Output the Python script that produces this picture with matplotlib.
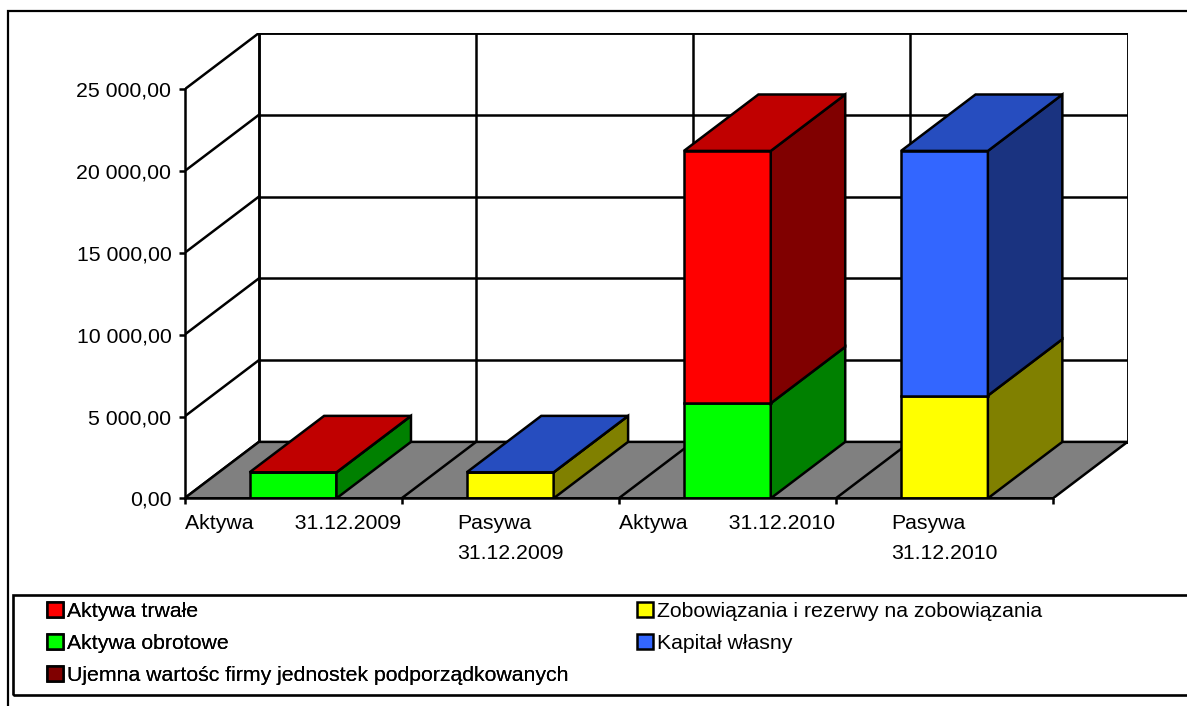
import numpy as np
import matplotlib
matplotlib.use("Agg")
import matplotlib.pyplot as plt
from matplotlib.patches import Polygon, Rectangle, Patch

plt.rcParams['font.family'] = ['Liberation Sans', 'DejaVu Sans']

# ---------------- data ----------------
x_labels = ["Aktywa       31.12.2009", "Pasywa\n31.12.2009",
            "Aktywa       31.12.2010", "Pasywa\n31.12.2010"]
series_names = ["Aktywa trwałe", "Aktywa obrotowe",
                "Ujemna wartośc firmy jednostek podporządkowanych",
                "Zobowiązania i rezerwy na zobowiązania", "Kapitał własny"]
nan = np.nan
aktywa_trwale = [0.0, nan, 15430.0, nan]
aktywa_obrotowe = [1590.0, nan, 5810.0, nan]
ujemna_wartosc = [nan, nan, nan, nan]
zobowiazania = [nan, 1590.0, nan, 6280.0]
kapital_wlasny = [nan, 0.0, nan, 14960.0]
y_ticks = [0, 5000, 10000, 15000, 20000, 25000]

# stacking order (bottom -> top) by series index
stack_order = [1, 3, 0, 4, 2]
values = [aktywa_trwale, aktywa_obrotowe, ujemna_wartosc, zobowiazania, kapital_wlasny]

# colours: front, side, top
front_c = ["#FF0000", "#00FF00", "#800000", "#FFFF00", "#3366FF"]
side_c = ["#800000", "#008000", "#400000", "#808000", "#1A3380"]
top_c = ["#C00000", "#00C000", "#600000", "#C0C000", "#264DBF"]

# ---------------- layout ----------------
W, H = 1187, 706
fig = plt.figure(figsize=(W / 100, H / 100), dpi=100)
LW = 1.8
FS = 15.3

x0p, y0p, x1p, y1p = 184.5, 498.3, 1127.5, 33.0
ax = fig.add_axes([x0p / W, 1 - y0p / H, (x1p - x0p) / W, (y0p - y1p) / H])
n = len(x_labels)
DX = 0.343
DY = 3450.0
ymax = y_ticks[-1]
ax.set_xlim(0, n + DX)
ax.set_ylim(0, ymax + DY)
ax.patch.set_alpha(0)

line_kw = dict(color="black", lw=LW, solid_capstyle="projecting", zorder=2)

# back wall and its grid
ax.add_patch(Rectangle((DX, DY), n, ymax, facecolor="white", edgecolor="black", lw=LW, zorder=1))
for v in y_ticks:
    ax.plot([DX, n + DX], [v + DY, v + DY], **line_kw)
    ax.plot([0, DX], [v, v + DY], **line_kw)
for i in range(n + 1):
    ax.plot([i + DX, i + DX], [DY, ymax + DY], **line_kw)

# floor
ax.add_patch(Polygon([(0, 0), (n, 0), (n + DX, DY), (DX, DY)], closed=True,
                     facecolor="#808080", edgecolor="black", lw=LW, zorder=3,
                     joinstyle="miter"))
for i in range(1, n):
    ax.plot([i, i + DX], [0, DY], color="black", lw=LW, zorder=3.5)

# bars
bw = 0.4
for i in range(n):
    xa = i + (1 - bw) / 2
    xb = xa + bw
    base = 0.0
    last = None
    for s in stack_order:
        v = values[s][i]
        if np.isnan(v):
            continue
        top = base + v
        pk = dict(edgecolor="black", lw=LW, joinstyle="miter", zorder=5)
        ax.add_patch(Rectangle((xa, base), bw, v, facecolor=front_c[s], **pk))
        ax.add_patch(Polygon([(xb, base), (xb + DX, base + DY), (xb + DX, top + DY), (xb, top)],
                             closed=True, facecolor=side_c[s], **pk))
        base = top
        last = s
    if last is not None:
        ax.add_patch(Polygon([(xa, base), (xb, base), (xb + DX, base + DY), (xa + DX, base + DY)],
                             closed=True, facecolor=top_c[last], edgecolor="black", lw=LW,
                             joinstyle="miter", zorder=6))

# axes / ticks
for side in ["top", "right"]:
    ax.spines[side].set_visible(False)
ax.spines["left"].set_bounds(0, ymax)
ax.spines["bottom"].set_bounds(0, n)
for side in ["left", "bottom"]:
    ax.spines[side].set_linewidth(LW)
    ax.spines[side].set_zorder(7)

def fmt(v):
    return f"{v:,.2f}".replace(",", " ").replace(".", ",")

ax.set_yticks(y_ticks)
ax.set_yticklabels([fmt(v) for v in y_ticks])
ax.tick_params(axis="y", direction="out", length=4.5, width=LW, pad=5, labelsize=FS)
ax.set_xticks(range(n + 1))
ax.set_xticklabels([""] * (n + 1))
ax.tick_params(axis="x", which="major", direction="out", length=4.5, width=LW)
ax.set_xticks(np.arange(n) + 0.5, minor=True)
ax.set_xticklabels(x_labels, minor=True)
ax.tick_params(axis="x", which="minor", length=0, pad=11, labelsize=FS)
for lbl in ax.get_xticklabels(minor=True):
    lbl.set_multialignment("left")
    lbl.set_linespacing(1.75)

# outer frame
fig.add_artist(Rectangle((8 / W, -0.2), 1.5, 1 - 11 / H + 0.2, transform=fig.transFigure,
                         fill=False, edgecolor="black", lw=1.6, clip_on=False))
# legend box
fig.add_artist(Rectangle((13 / W, 1 - 695 / H), 1.5, 100 / H, transform=fig.transFigure,
                         fill=False, edgecolor="black", lw=1.9, clip_on=False))

handles = [Patch(facecolor=front_c[s], edgecolor="black", lw=LW, label=series_names[s])
           for s in range(len(series_names))]
leg_kw = dict(frameon=False, loc="upper left", fontsize=FS, borderpad=0, borderaxespad=0,
              handlelength=0.75, handleheight=0.7, handletextpad=0.2, labelspacing=0.62)
leg1 = fig.legend(handles=handles[:3], bbox_to_anchor=(47 / W, 1 - 602 / H), **leg_kw)
fig.add_artist(leg1)
fig.legend(handles=handles[3:], bbox_to_anchor=(637 / W, 1 - 602 / H), **leg_kw)

fig.savefig("out.png", dpi=100)
